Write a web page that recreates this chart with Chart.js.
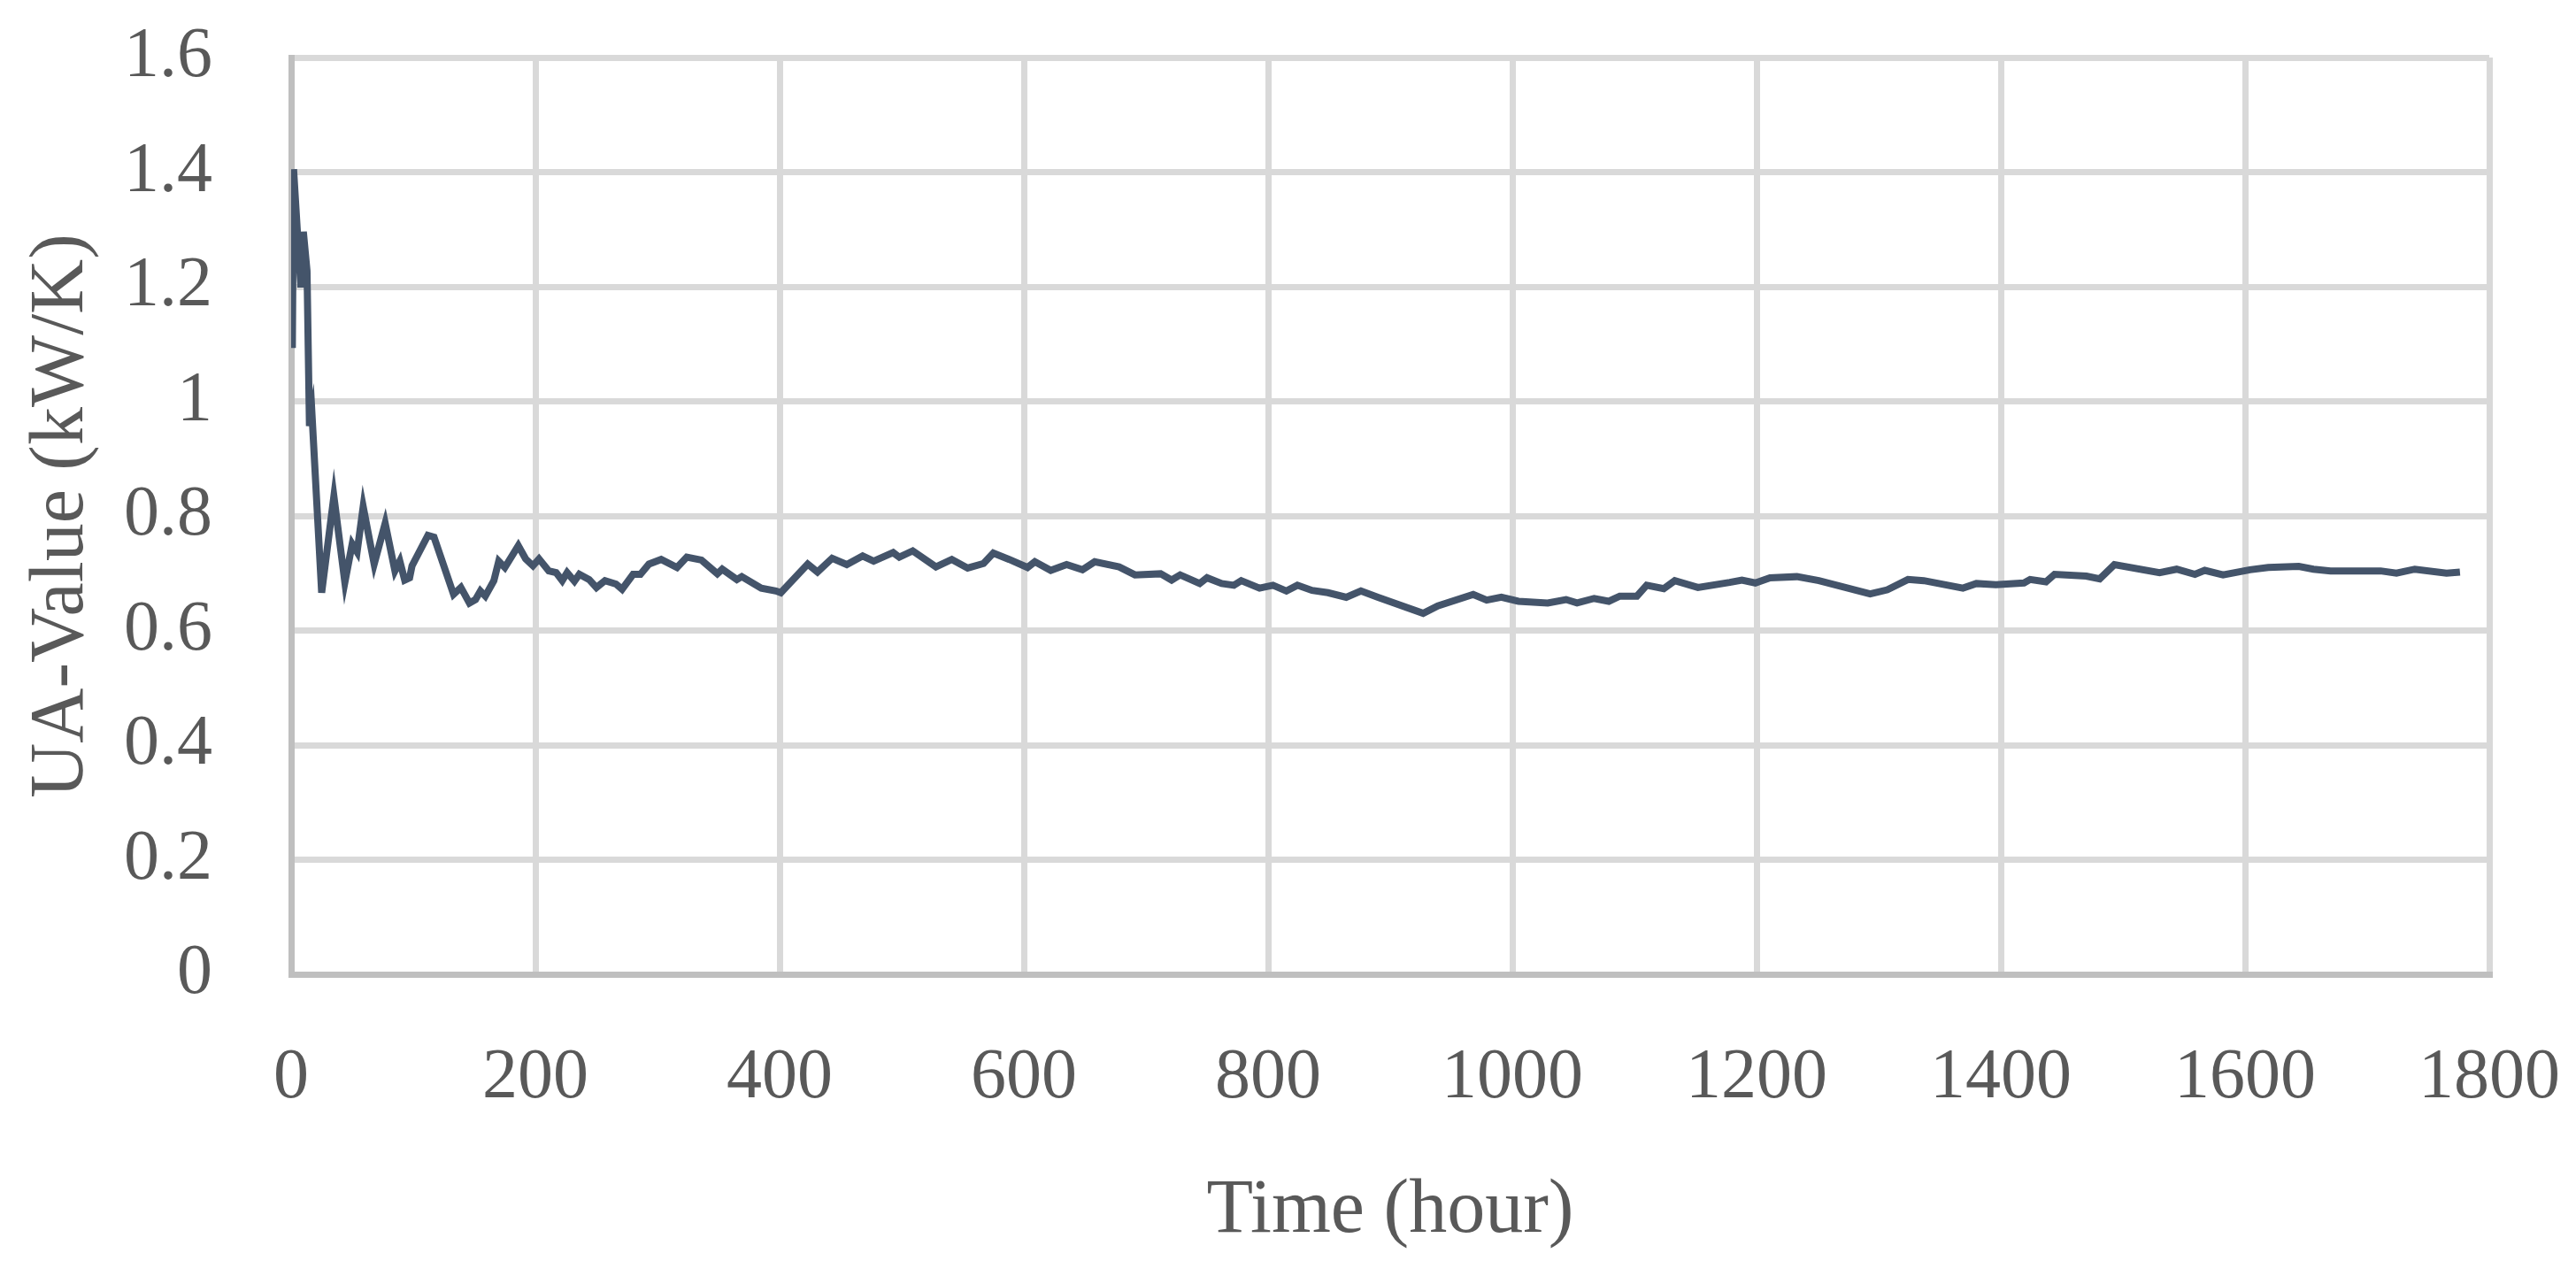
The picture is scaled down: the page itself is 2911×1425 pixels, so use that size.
<!DOCTYPE html>
<html>
<head>
<meta charset="utf-8">
<title>UA-Value over time</title>
<script src="https://cdn.jsdelivr.net/npm/chart.js@4.4.1/dist/chart.umd.min.js"></script>
<style>
  html, body { margin: 0; padding: 0; background: #ffffff; }
  #chartBox { width: 2911px; height: 1425px; }
</style>
</head>
<body>
<div id="chartBox"><canvas id="uaChart" width="2911" height="1425"></canvas></div>
<script>
// ==========================================
//  UA-VALUE vs TIME
// ==========================================

// === DATA ===
var HOURS = [
  1, 2, 5, 8, 10, 13, 15, 17, 25, 35, 44, 50, 54, 59, 68, 77, 85, 89, 93, 97,
  99, 112, 117, 133, 139, 146, 151, 155, 159, 166, 170, 175, 186, 192, 198, 203, 211, 217, 222, 226,
  232, 236, 244, 250, 257, 266, 271, 280, 286, 293, 303, 316, 324, 336, 349, 353, 365, 369, 385, 397,
  401, 423, 431, 443, 455, 468, 477, 493, 498, 509, 528, 541, 554, 567, 575, 588, 603, 609, 622, 635,
  648, 658, 678, 691, 712, 721, 728, 744, 750, 762, 772, 778, 793, 804, 815, 824, 836, 849, 864, 876,
  890, 927, 939, 968, 979, 991, 1005, 1029, 1044, 1053, 1067, 1079, 1088, 1102, 1110, 1124, 1133, 1152, 1178, 1188,
  1199, 1211, 1233, 1251, 1293, 1307, 1324, 1337, 1369, 1380, 1396, 1419, 1424, 1437, 1444, 1470, 1481, 1493, 1530, 1544,
  1559, 1567, 1582, 1604, 1619, 1644, 1656, 1670, 1711, 1724, 1739, 1765, 1776
];
var UA_VALUES = [
  1.093, 1.405, 1.30, 1.199, 1.296, 1.228, 0.957, 0.980, 0.666, 0.834, 0.684, 0.751, 0.737, 0.816, 0.716, 0.787, 0.704, 0.721, 0.688, 0.692,
  0.713, 0.766, 0.763, 0.663, 0.675, 0.648, 0.654, 0.669, 0.660, 0.687, 0.721, 0.710, 0.748, 0.725, 0.713, 0.725, 0.704, 0.701, 0.687, 0.701,
  0.686, 0.698, 0.689, 0.675, 0.687, 0.681, 0.672, 0.698, 0.698, 0.716, 0.724, 0.710, 0.728, 0.723, 0.699, 0.707, 0.689, 0.694, 0.674, 0.669,
  0.666, 0.716, 0.702, 0.726, 0.715, 0.730, 0.721, 0.736, 0.728, 0.739, 0.711, 0.724, 0.709, 0.717, 0.735, 0.724, 0.710, 0.720, 0.705, 0.715,
  0.706, 0.720, 0.711, 0.697, 0.699, 0.688, 0.697, 0.682, 0.692, 0.682, 0.679, 0.687, 0.674, 0.679, 0.669, 0.679, 0.670, 0.666, 0.658, 0.669,
  0.658, 0.630, 0.643, 0.663, 0.653, 0.658, 0.651, 0.648, 0.654, 0.648, 0.656, 0.651, 0.660, 0.660, 0.679, 0.673, 0.687, 0.675, 0.684, 0.688,
  0.683, 0.692, 0.694, 0.687, 0.664, 0.671, 0.689, 0.687, 0.674, 0.682, 0.680, 0.683, 0.689, 0.685, 0.698, 0.695, 0.690, 0.715, 0.701, 0.707,
  0.698, 0.705, 0.697, 0.706, 0.710, 0.712, 0.707, 0.704, 0.704, 0.700, 0.707, 0.700, 0.702
];
var X_TICKS = [0, 200, 400, 600, 800, 1000, 1200, 1400, 1600, 1800];
var Y_TICKS = [0, 0.2, 0.4, 0.6, 0.8, 1, 1.2, 1.4, 1.6];
var X_TITLE = 'Time (hour)';
var Y_TITLE = 'UA-Value (kW/K)';

(function () {
  'use strict';

  var TEXT_COLOR = '#595959';
  var GRID_COLOR = '#d9d9d9';
  var AXIS_COLOR = '#bfbfbf';
  var LINE_COLOR = '#44546a';
  var FAMILY     = '"Liberation Serif", "DejaVu Serif", serif';
  var TICK_FONT  = { family: FAMILY, size: 80, lineHeight: 1.2 };
  var TITLE_FONT = { family: FAMILY, size: 86, lineHeight: 1 };

  var points = HOURS.map(function (h, i) { return { x: h, y: UA_VALUES[i] }; });

  function fixedTicks(list) {
    return function (scale) {
      scale.ticks = list.map(function (v) { return { value: v }; });
    };
  }

  // the plot box is set by layout.padding, so drop the label padding Chart.js adds
  function fitX(s) {
    s.height = 324;
    s.paddingLeft = 0;
    s.paddingRight = 0;
  }
  function fitY(s) {
    s.width = 329;
    s.paddingTop = 0;
    s.paddingBottom = 0;
  }

  var canvas = document.getElementById('uaChart');
  new Chart(canvas.getContext('2d'), {
    type: 'scatter',
    data: {
      datasets: [{
        label:       'UA-Value',
        data:        points,
        showLine:    true,
        borderColor: LINE_COLOR,
        borderWidth: 8,
        pointRadius: 0,
        tension:     0,
        fill:        false,
      }],
    },
    options: {
      responsive: false,
      animation:  false,
      devicePixelRatio: 1,
      layout: { padding: { top: 65, right: 98, bottom: 0, left: 0 } },
      plugins: {
        legend:  { display: false },
        tooltip: { enabled: false },
      },
      scales: {
        x: {
          type: 'linear',
          min:  0,
          max:  1800,
          afterBuildTicks: fixedTicks(X_TICKS),
          afterFit: fitX,
          grid:   { color: GRID_COLOR, lineWidth: 7, drawTicks: false },
          border: { color: AXIS_COLOR, width: 7 },
          ticks:  {
            font: TICK_FONT, color: TEXT_COLOR, padding: 70, maxRotation: 0,
            callback: function (v) { return String(v); },
          },
          title:  {
            display: true, text: X_TITLE, color: TEXT_COLOR, font: TITLE_FONT,
            padding: { top: 0, bottom: 13 },
          },
        },
        y: {
          type: 'linear',
          min:  0,
          max:  1.6,
          afterBuildTicks: fixedTicks(Y_TICKS),
          afterFit: fitY,
          grid:   { color: GRID_COLOR, lineWidth: 7, drawTicks: false },
          border: { color: AXIS_COLOR, width: 7 },
          ticks:  {
            font: TICK_FONT, color: TEXT_COLOR, padding: 89,
            callback: function (v) { return String(Math.round(v * 10) / 10); },
          },
          title:  {
            display: true, text: Y_TITLE, color: TEXT_COLOR, font: TITLE_FONT,
            padding: { top: 27, bottom: 0 },
          },
        },
      },
    },
  });
}());
</script>
</body>
</html>
